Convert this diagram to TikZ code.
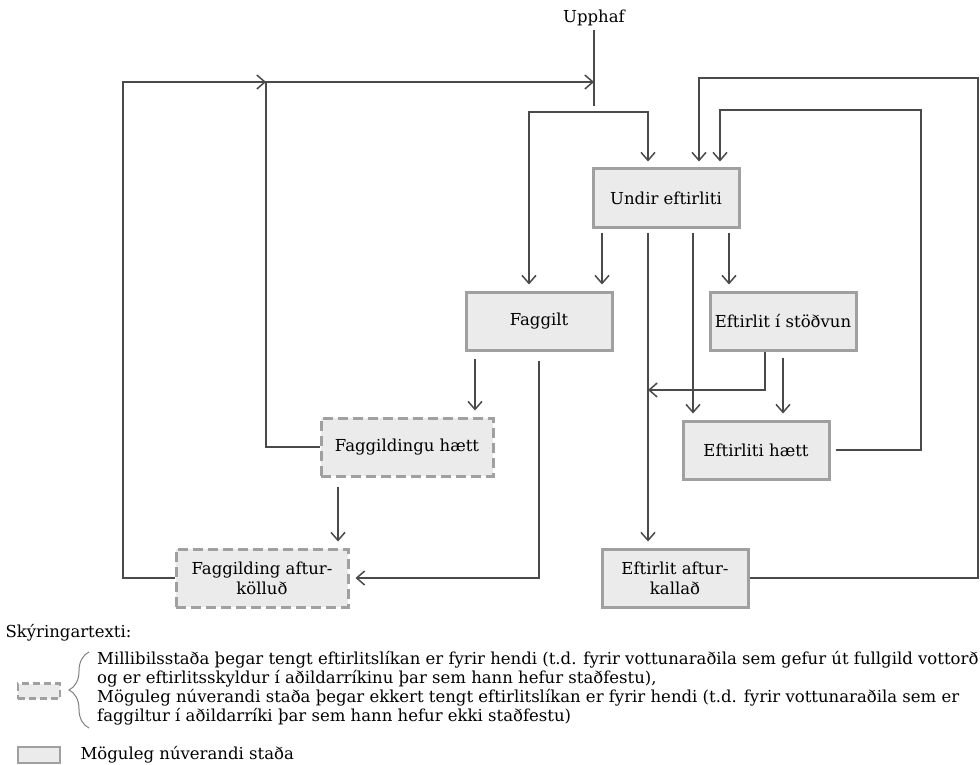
\documentclass[tikz,border=0pt]{standalone}
\usepackage{fontspec}
\setmainfont{DejaVu Serif}
\usetikzlibrary{positioning, arrows.meta, decorations.pathreplacing}
\definecolor{boxgray}{HTML}{A0A0A0}
\definecolor{boxfill}{HTML}{EBEBEB}
\definecolor{linegray}{HTML}{4A4A4A}

\begin{document}
\begin{tikzpicture}[x=1pt, y=-1pt, node distance=20pt,
	font=\fontsize{16.5}{17}\selectfont,
	statebox/.style={draw=boxgray, fill=boxfill, line width=3pt, minimum width=146pt, minimum height=58pt, align=center, font=\fontsize{16.5}{20}\selectfont},
	tempbox/.style={statebox, dash pattern=on 10pt off 5pt, minimum width=172pt},
	conn/.style={draw=linegray, line width=1.5pt, shorten >=6pt, -{Straight Barb[length=8pt,width=14pt]}}]
	\useasboundingbox (0,0) rectangle (980,765);
			\node                                   (start)   at (594,18)  {Upphaf};
			\node[statebox]                         (undir)   at (666,198) {Undir eftirliti};
			\node[statebox]                         (faggilt) at (539,321) {Faggilt};
			\node[statebox, right=95pt of faggilt]  (stodvun) {Eftirlit í stöðvun};
			\node[statebox, below=68pt of stodvun, xshift=-27pt] (haett) {Eftirliti hætt};
			\node[tempbox]                          (faggH)   at (407,447) {Faggildingu hætt};
			\node[tempbox]                          (faggA)   at (262,578) {Faggilding aftur-\\kölluð};
			\node[statebox]                         (afturk)  at (675,578) {Eftirlit aftur-\\kallað};
			\coordinate (split)   at (594,112);
			\coordinate (top)     at (594,82);
			\coordinate (lefttop) at (266,82);
			\coordinate (stop)    at (648,390);
			
			\draw[conn, -] (start) -- (split);
			\draw[conn] (split) -| ([xshift=-10pt]faggilt.north);
			\draw[conn] (split) -| ([xshift=-18pt]undir.north);
			\draw[conn, shorten >=0pt] (faggA.west) -| (123,82) -- (lefttop);
			\draw[conn, shorten >=0pt] (faggH.west) -| (lefttop) -- (top);
			\draw[conn, shorten <=4pt] ([xshift=-64pt]undir.south) -- ([xshift=-64pt]undir.south |- faggilt.north);
			\draw[conn, shorten <=4pt] ([xshift=63pt]undir.south) -- ([xshift=63pt]undir.south |- stodvun.north);
			\draw[conn, shorten <=4pt] ([xshift=-18pt]undir.south) -- ([xshift=-18pt]undir.south |- afturk.north);
			\draw[conn, shorten <=4pt] ([xshift=27pt]undir.south) -- ([xshift=27pt]undir.south |- haett.north);
			\draw[conn, shorten >=0pt] ([xshift=-18pt]stodvun.south) |- (stop);
			\draw[conn, shorten <=6pt] (stodvun.south) -- (stodvun.south |- haett.north);
			\draw[conn, shorten <=7pt] ([xshift=-64pt]faggilt.south) -- ([xshift=-64pt]faggilt.south |- faggH.north);
			\draw[conn, shorten <=9pt] (faggilt.south) |- (faggA.east);
			\draw[conn, shorten <=9pt] ([xshift=-69pt]faggH.south) -- ([xshift=-69pt]faggH.south |- faggA.north);
			\draw[conn, shorten <=5pt] (haett.east) -| (921,110) -| ([xshift=54pt]undir.north);
			\draw[conn] (afturk.east) -| (978,78) -| ([xshift=33pt]undir.north);
			
			\node[anchor=west] (legend) at (2,633) {Skýringartexti:};
			\node[tempbox, minimum width=42pt, minimum height=15pt, line width=2.5pt, dash pattern=on 7pt off 4pt] (legtemp) at (39,691) {};
			\draw[decorate, decoration={brace, amplitude=20pt}, draw=gray, line width=1pt] (89,728) -- (89,652);
			\node[anchor=north west, align=left, inner sep=0pt, font=\fontsize{16.5}{19}\selectfont] (legtext) at (97,651) {Millibilsstaða þegar tengt eftirlitslíkan er fyrir hendi (t.d. fyrir vottunaraðila sem gefur út fullgild vottorð\\og er eftirlitsskyldur í aðildarríkinu þar sem hann hefur staðfestu),\\Möguleg núverandi staða þegar ekkert tengt eftirlitslíkan er fyrir hendi (t.d. fyrir vottunaraðila sem er\\faggiltur í aðildarríki þar sem hann hefur ekki staðfestu)};
			\node[statebox, minimum width=42pt, minimum height=16pt, line width=2.5pt] (legstate) at (39,755) {};
			\node[anchor=west] (legstatetext) at (77,755) {Möguleg núverandi staða};
		\end{tikzpicture}
\end{document}
